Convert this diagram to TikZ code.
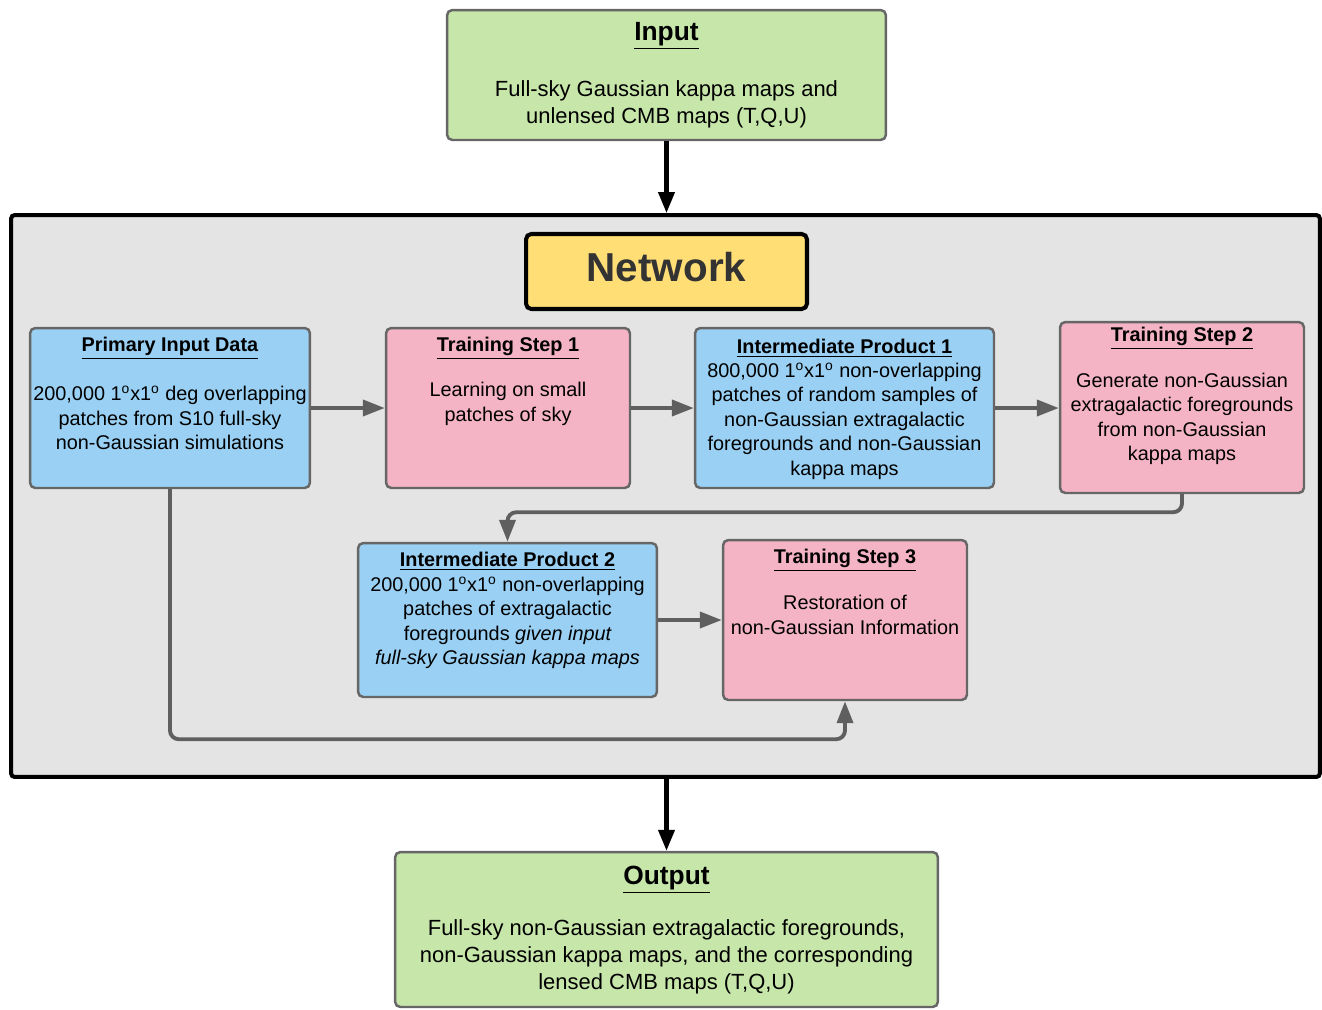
\documentclass[tikz,border=0pt]{standalone}
\usepackage{fontspec}
\setmainfont{Liberation Sans}
\usetikzlibrary{arrows.meta}

\definecolor{ingreen}{HTML}{C7E6AA}
\definecolor{netgray}{HTML}{E4E4E4}
\definecolor{netyellow}{HTML}{FFDE75}
\definecolor{datablue}{HTML}{99D0F3}
\definecolor{steppink}{HTML}{F4B4C6}
\definecolor{edgegray}{HTML}{666666}
\definecolor{flowgray}{HTML}{5F5F5F}
\definecolor{netink}{HTML}{333333}

\newcommand{\boxtitle}[1]{\underline{\textbf{#1}}}
\newcommand{\degsign}{\textsuperscript{o}}

\begin{document}
\begin{tikzpicture}[x=0.02cm,y=-0.02cm,
  box/.style={draw=edgegray,line width=1.4pt,rounded corners=3pt,inner sep=0pt},
  big title/.style={font=\fontsize{15}{18}\selectfont,inner sep=0pt},
  big text/.style={font=\fontsize{12.5}{15.3}\selectfont,align=center,inner sep=0pt},
  small title/.style={font=\fontsize{11.3}{13.9}\selectfont,inner sep=0pt},
  small text/.style={font=\fontsize{11.3}{13.9}\selectfont,align=center,inner sep=0pt},
  flow/.style={flowgray,line width=2.2pt,rounded corners=5pt,-{Triangle[length=0.44cm,width=0.32cm]}},
  main flow/.style={black,line width=2.3pt,-{Triangle[length=0.42cm,width=0.32cm]}}]
  \useasboundingbox (0,0) rectangle (1322,1009);

  % outer frame and heading
  \node[box,draw=black,line width=2.3pt,rounded corners=2pt,fill=netgray,minimum width=26.18cm,minimum height=11.24cm] (net) at (665.5,496) {};
  \node[box,draw=black,line width=2.3pt,fill=netyellow,minimum width=5.62cm,minimum height=1.5cm] (netlabel) at (666.5,271.5) {};
  \node[inner sep=0pt,text=netink,font=\fontsize{23}{26}\selectfont\bfseries] (netname) at (666.5,267) {Network};

  % input and output
  \node[box,fill=ingreen,minimum width=8.78cm,minimum height=2.6cm] (input) at (666.5,75) {};
  \node[big title] (input title) at (666.5,36) {\boxtitle{Input}};
  \node[big text] (input text) at (666.5,104) {Full-sky Gaussian kappa maps and\\unlensed CMB maps (T,Q,U)};

  \node[box,fill=ingreen,minimum width=10.86cm,minimum height=3.1cm] (output) at (666.5,929.5) {};
  \node[big title] (output title) at (666.5,880) {\boxtitle{Output}};
  \node[big text] (output text) at (666.5,957) {Full-sky non-Gaussian extragalactic foregrounds,\\non-Gaussian kappa maps, and the corresponding\\lensed CMB maps (T,Q,U)};

  % first row
  \node[box,fill=datablue,minimum width=5.6cm,minimum height=3.2cm] (primary) at (170,408) {};
  \node[small title] (primary title) at (170,348) {\boxtitle{Primary Input Data}};
  \node[small text] (primary text) at (170,418) {200,000 1\degsign x1\degsign\ deg overlapping\\patches from S10 full-sky\\non-Gaussian simulations};

  \node[box,fill=steppink,minimum width=4.88cm,minimum height=3.2cm] (step1) at (508,408) {};
  \node[small title] (step1 title) at (508,348) {\boxtitle{Training Step 1}};
  \node[small text] (step1 text) at (508,404) {Learning on small\\patches of sky};

  \node[box,fill=datablue,minimum width=5.98cm,minimum height=3.2cm] (prod1) at (844.5,408) {};
  \node[small title] (prod1 title) at (844.5,348) {\boxtitle{Intermediate Product 1}};
  \node[small text] (prod1 text) at (844.5,421) {800,000 1\degsign x1\degsign\ non-overlapping\\patches of random samples of\\non-Gaussian extragalactic\\foregrounds and non-Gaussian\\kappa maps};

  \node[box,fill=steppink,minimum width=4.88cm,minimum height=3.42cm] (step2) at (1182,407.5) {};
  \node[small title] (step2 title) at (1182,338) {\boxtitle{Training Step 2}};
  \node[small text] (step2 text) at (1182,419) {Generate non-Gaussian\\extragalactic foregrounds\\from non-Gaussian\\kappa maps};

  % second row
  \node[box,fill=datablue,minimum width=5.98cm,minimum height=3.08cm] (prod2) at (507.5,620) {};
  \node[small title] (prod2 title) at (507.5,561) {\boxtitle{Intermediate Product 2}};
  \node[small text] (prod2 text) at (507.5,623) {200,000 1\degsign x1\degsign\ non-overlapping\\patches of extragalactic\\foregrounds \itshape given input\\\itshape full-sky Gaussian kappa maps};

  \node[box,fill=steppink,minimum width=4.88cm,minimum height=3.2cm] (step3) at (845,620) {};
  \node[small title] (step3 title) at (845,560) {\boxtitle{Training Step 3}};
  \node[small text] (step3 text) at (845,615) {Restoration of\\non-Gaussian Information};

  % connectors
  \draw[main flow] (input.south) -- (input.south |- net.north);
  \draw[main flow] (output.north |- net.south) -- (output.north);

  \draw[flow] (primary.east) -- (step1.west);
  \draw[flow] (step1.east) -- (prod1.west);
  \draw[flow] (prod1.east) -- (prod1.east -| step2.west);
  \draw[flow] (step2.south) -- ++(0,18) -| (prod2.north);
  \draw[flow] (prod2.east) -- (step3.west);
  \draw[flow] (primary.south) -- ++(0,250) -| (step3.south);
\end{tikzpicture}
\end{document}
